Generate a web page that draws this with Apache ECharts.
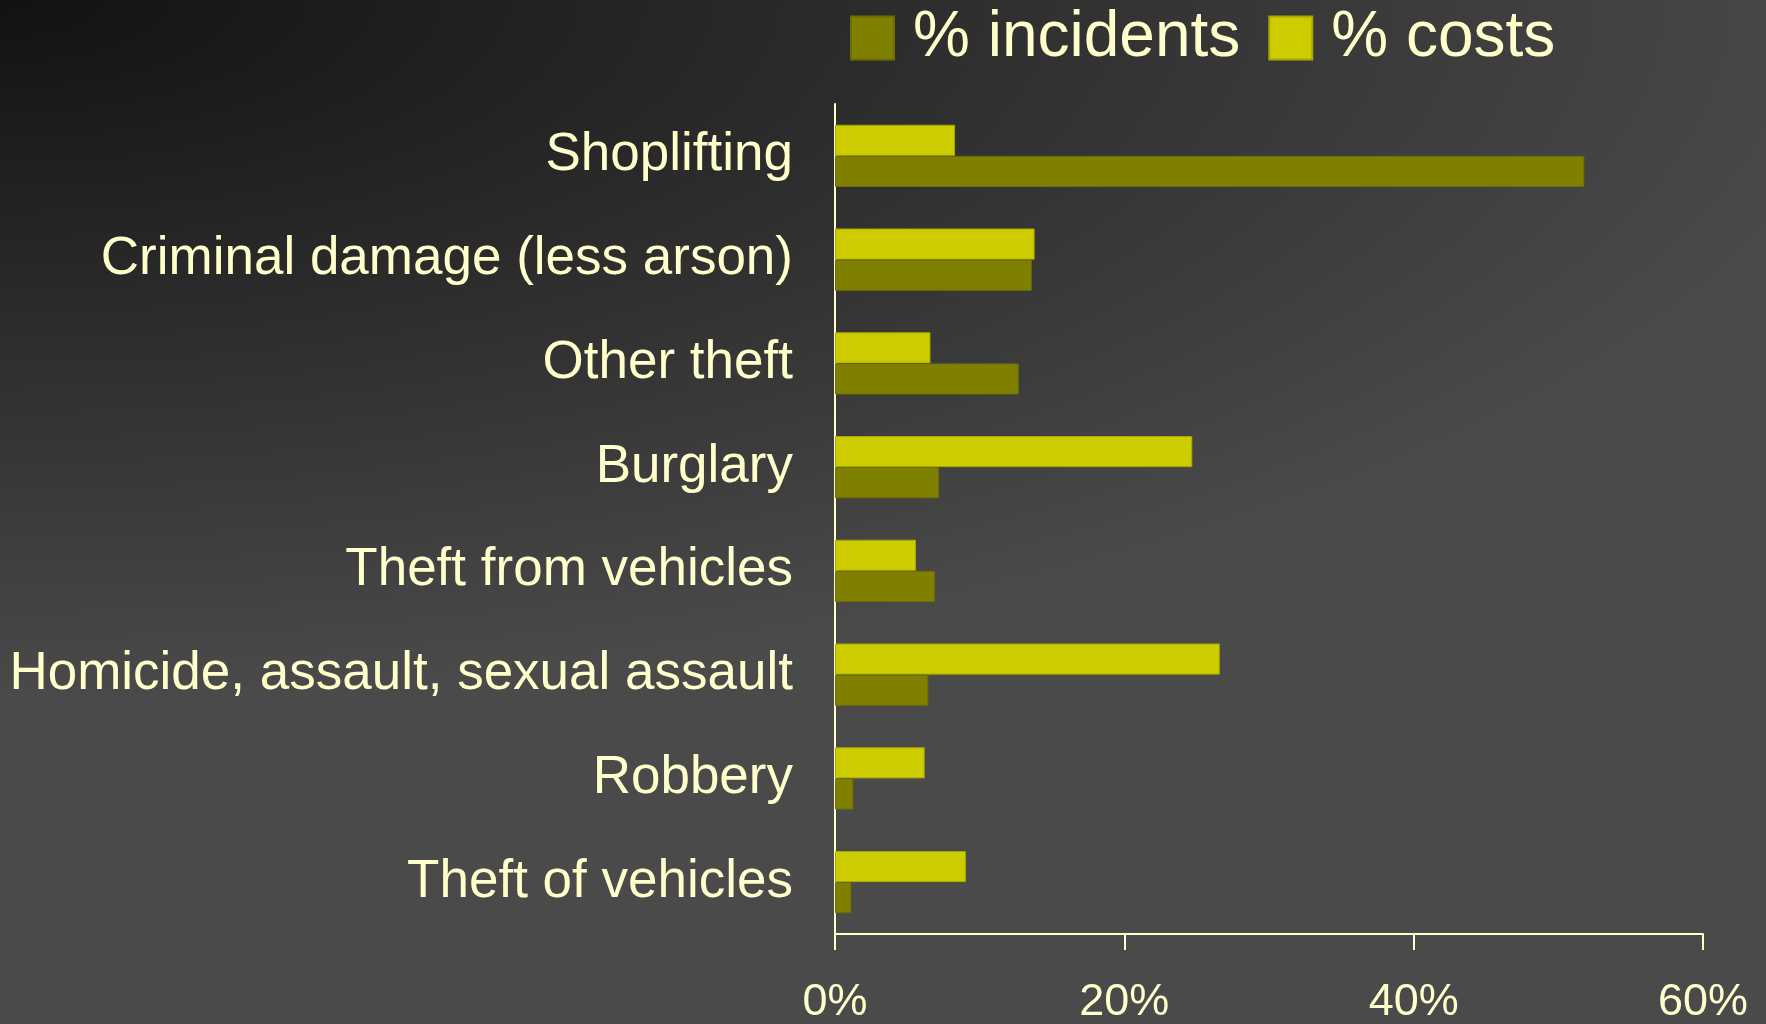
<!DOCTYPE html>
<html>
<head>
<meta charset="utf-8">
<script src="https://cdn.jsdelivr.net/npm/echarts@6/dist/echarts.min.js"></script>
<style>
html,body{margin:0;padding:0;width:1766px;height:1024px;overflow:hidden;}
body{background:radial-gradient(ellipse 1900px 700px at 0 0,#121212 0%,#4a4a4a 100%);}
#chart{width:1766px;height:1024px;}
</style>
</head>
<body>
<div id="chart"></div>
<script>
var categories = ['Shoplifting','Criminal damage (less arson)','Other theft','Burglary','Theft from vehicles','Homicide, assault, sexual assault','Robbery','Theft of vehicles'];
var incidents = [51.8, 13.6, 12.7, 7.2, 6.9, 6.45, 1.27, 1.13];
var costs = [8.3, 13.8, 6.6, 24.7, 5.6, 26.6, 6.2, 9.05];
var xTicks = {min: 0, max: 60, interval: 20};

var font = 'Arial, "Liberation Sans", sans-serif';
var txt = '#FFFFCC';
var chart = echarts.init(document.getElementById('chart'), null, {renderer: 'canvas'});
chart.setOption({
  backgroundColor: 'transparent',
  animation: false,
  legend: {
    data: ['% incidents', '% costs'],
    left: 845,
    top: 1,
    itemWidth: 43,
    itemHeight: 43,
    itemGap: 28,
    icon: 'rect',
    textStyle: {color: txt, fontSize: 64, fontFamily: font, padding: [0, 0, 0, 14]}
  },
  grid: {left: 835, right: 63, top: 104, bottom: 90, containLabel: false, outerBoundsMode: 'none'},
  xAxis: {
    type: 'value',
    min: xTicks.min, max: xTicks.max, interval: xTicks.interval,
    axisLine: {show: true, lineStyle: {color: txt, width: 2}},
    axisTick: {show: true, length: 16, lineStyle: {color: txt, width: 2}},
    splitLine: {show: false},
    axisLabel: {color: txt, fontSize: 45, fontFamily: font, margin: 46, formatter: '{value}%'}
  },
  yAxis: {
    type: 'category',
    inverse: true,
    data: categories,
    axisLine: {show: true, lineStyle: {color: txt, width: 2}},
    axisTick: {show: false},
    axisLabel: {color: txt, fontSize: 53, fontFamily: font, margin: 42, padding: [10, 0, 0, 0]}
  },
  series: [
    {
      name: '% costs', type: 'bar', data: costs,
      barGap: '0%', barCategoryGap: '40%',
      itemStyle: {color: '#CCCC00', borderColor: '#a8a800', borderWidth: 1}
    },
    {
      name: '% incidents', type: 'bar', data: incidents,
      barGap: '0%', barCategoryGap: '40%',
      itemStyle: {color: '#808000', borderColor: '#6e6e00', borderWidth: 1}
    }
  ]
});
</script>
</body>
</html>
